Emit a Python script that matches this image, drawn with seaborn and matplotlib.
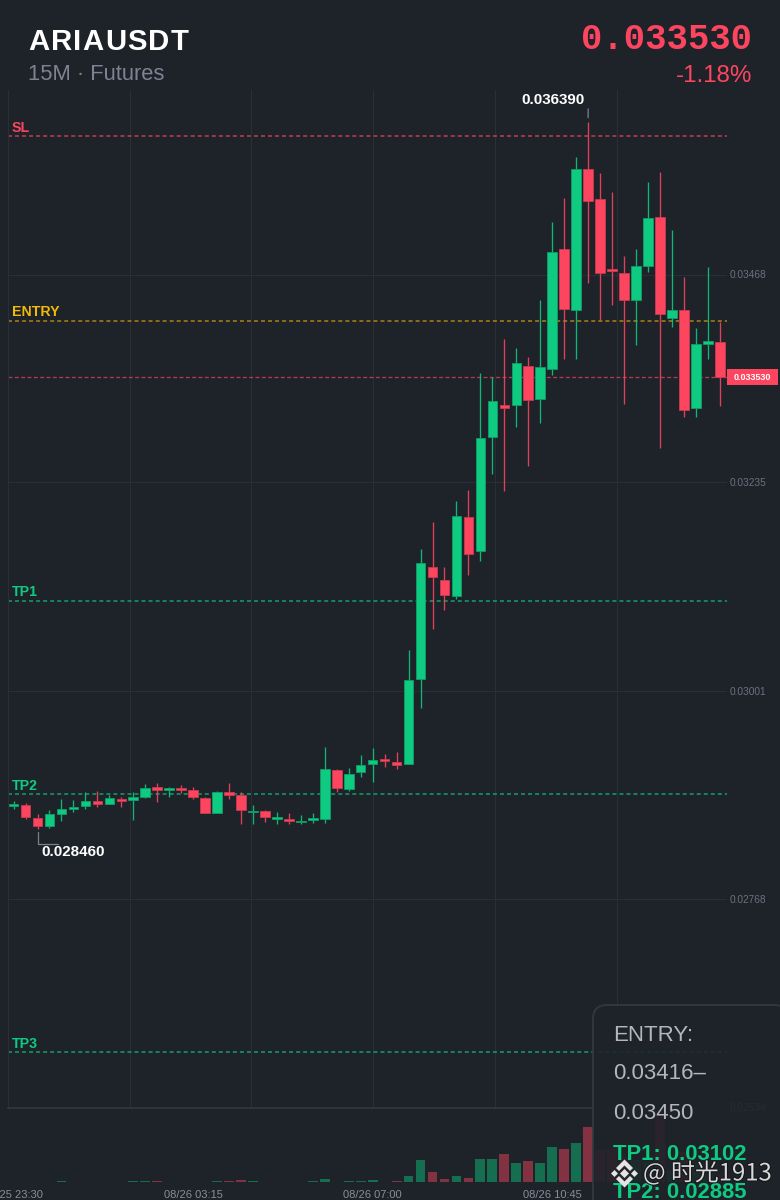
import numpy as np
import pandas as pd
import seaborn as sns
import matplotlib.pyplot as plt
from matplotlib.patches import FancyBboxPatch, Polygon, Rectangle
import matplotlib.patheffects as pe

# candles, 15 min each, starting 08/25 23:30
open_prices = [0.028726, 0.028732, 0.028583, 0.028497, 0.028628, 0.028687, 0.028717, 0.028774, 0.028747, 0.028799,
               0.028788, 0.028818, 0.028930, 0.028900, 0.028923, 0.028900, 0.028811, 0.028646, 0.028881, 0.028841,
               0.028657, 0.028661, 0.028578, 0.028572, 0.028545, 0.028564, 0.028578, 0.029124, 0.028908, 0.029099,
               0.029195, 0.029244, 0.029214, 0.029195, 0.030145, 0.031397, 0.031255, 0.031079, 0.031964, 0.031580,
               0.032861, 0.033217, 0.033214, 0.033657, 0.033281, 0.033621, 0.034963, 0.034282, 0.035863, 0.035523,
               0.034742, 0.034693, 0.034394, 0.034772, 0.035321, 0.034196, 0.034282, 0.033180, 0.033904, 0.033920]
high_prices = [0.028777, 0.028758, 0.028631, 0.028676, 0.028799, 0.028788, 0.028874, 0.028892, 0.028844, 0.028818,
               0.028874, 0.028964, 0.028975, 0.028934, 0.028956, 0.028934, 0.028822, 0.028892, 0.028982, 0.028881,
               0.028732, 0.028676, 0.028650, 0.028639, 0.028620, 0.028639, 0.029379, 0.029136, 0.029144, 0.029293,
               0.029368, 0.029301, 0.029330, 0.030470, 0.031599, 0.031905, 0.031404, 0.032137, 0.032267, 0.033579,
               0.033527, 0.033957, 0.033856, 0.033752, 0.034394, 0.035272, 0.035534, 0.035994, 0.036390, 0.035821,
               0.035608, 0.034891, 0.034963, 0.035714, 0.035833, 0.035179, 0.034655, 0.034077, 0.034761, 0.034151]
low_prices = [0.028682, 0.028575, 0.028460, 0.028477, 0.028556, 0.028657, 0.028687, 0.028713, 0.028743, 0.028713,
              0.028564, 0.028807, 0.028766, 0.028825, 0.028863, 0.028796, 0.028639, 0.028639, 0.028796, 0.028516,
              0.028516, 0.028545, 0.028516, 0.028516, 0.028516, 0.028527, 0.028534, 0.028881, 0.028892, 0.029049,
              0.028987, 0.029155, 0.029139, 0.029192, 0.029823, 0.030709, 0.030918, 0.031038, 0.031311, 0.031471,
              0.032440, 0.032249, 0.032974, 0.032536, 0.033012, 0.033553, 0.033729, 0.033729, 0.034581, 0.034170,
              0.034338, 0.033228, 0.033890, 0.034711, 0.032738, 0.034095, 0.033079, 0.033086, 0.033729, 0.033206]
close_prices = [0.028738, 0.028594, 0.028497, 0.028631, 0.028684, 0.028710, 0.028774, 0.028747, 0.028811, 0.028777,
                0.028822, 0.028919, 0.028900, 0.028923, 0.028904, 0.028818, 0.028646, 0.028881, 0.028848, 0.028679,
                0.028668, 0.028598, 0.028594, 0.028549, 0.028553, 0.028583, 0.029132, 0.028919, 0.029080, 0.029181,
                0.029233, 0.029229, 0.029184, 0.030134, 0.031445, 0.031288, 0.031087, 0.031976, 0.031550, 0.032847,
                0.033258, 0.033183, 0.033688, 0.033270, 0.033640, 0.034929, 0.034293, 0.035863, 0.035504, 0.034700,
                0.034719, 0.034394, 0.034779, 0.035310, 0.034234, 0.034282, 0.033161, 0.033901, 0.033931, 0.033530]
volumes = [0.5, 0.3, 0.4, 0.4, 1, 0.3, 0.4, 0.3, 0.3, 0.2,
           0.7, 0.7, 0.6, 0.3, 0.3, 0.3, 0.3, 0.8, 0.6, 2.5,
           0.8, 0.5, 0.5, 0.4, 0.3, 0.6, 3.5, 0.5, 0.6, 0.7,
           2, 0.3, 0.8, 6, 21.7, 10, 3, 6, 4.3, 23,
           22.7, 27.7, 19.3, 20.7, 19, 35, 33, 38.7, 55, 32,
           33, 25, 22, 20, 65, 12, 30, 18, 8, 7]

time_labels = ['08/25 23:30', '08/26 03:15', '08/26 07:00', '08/26 10:45']
time_ticks = [0, 15, 30, 45]
grid_times = [9.69, 19.85, 30.0, 40.2, 50.4]
price_ticks = [0.03468, 0.03235, 0.03001, 0.02768, 0.02534]

level_names = ['SL', 'ENTRY', 'TP1', 'TP2', 'TP3']
level_prices = [0.03623, 0.03416, 0.03102, 0.02885, 0.02596]
last_price = 0.033530

BG = '#1e2329'
GREEN = '#0ecb81'
RED = '#fd4560'
GOLD = '#d9a30f'
GRID = '#2a2f35'

sns.set_theme(style='dark', rc={'figure.facecolor': BG, 'axes.facecolor': BG, 'savefig.facecolor': BG})
plt.rcParams['font.family'] = ['Liberation Sans', 'Noto Sans CJK SC', 'DejaVu Sans']

W, H = 780, 1200
fig = plt.figure(figsize=(W / 100, H / 100), dpi=100)

def px_axes(x0, x1, y0, y1):
    return fig.add_axes([x0 / W, 1 - y1 / H, (x1 - x0) / W, (y1 - y0) / H])

ax = px_axes(7.6, 726.6, 90, 1107.5)
vol_ax = px_axes(7.6, 726.6, 1107.5, 1182)
ov = fig.add_axes([0, 0, 1, 1])
for a in (ax, vol_ax, ov):
    a.patch.set_alpha(0)
ov.set_xlim(0, W)
ov.set_ylim(H, 0)
ov.axis('off')

df = pd.DataFrame({'idx': np.arange(len(open_prices)), 'open': open_prices, 'high': high_prices,
                   'low': low_prices, 'close': close_prices, 'volume': volumes})
df['side'] = np.where(df['close'] >= df['open'], 'up', 'down')
df['color'] = np.where(df['close'] >= df['open'], GREEN, RED)
df['edge'] = np.where(df['close'] >= df['open'], '#0f9e68', '#c93a4f')

XLIM = (-0.5, 59.57)
YLIM = (0.0253405, 0.0367486)

# grid
for p in price_ticks:
    ax.axhline(p, color=GRID, lw=0.8, zorder=1)
for t in grid_times:
    ax.axvline(t, color=GRID, lw=0.8, zorder=1)
sns.despine(ax=ax, top=True, right=True)
ax.spines['left'].set_color(GRID)
ax.spines['left'].set_linewidth(0.8)
ax.spines['bottom'].set_color('#33383f')
ax.spines['bottom'].set_linewidth(1.2)

# level lines
level_colors = [RED, GOLD, GREEN, GREEN, GREEN]
for name, p, c in zip(level_names, level_prices, level_colors):
    ax.axhline(p, color=c, lw=1.15, alpha=0.72, dashes=(2.5, 1.9), zorder=2)
    ax.annotate(name, (0, p), xycoords=('axes fraction', 'data'), xytext=(3.2, 1.2), textcoords='offset points',
                color=c if name != 'ENTRY' else '#f0b90b', fontsize=10.2, fontweight='bold', va='bottom', ha='left')
ax.axhline(last_price, color=RED, lw=0.95, alpha=0.68, dashes=(3, 1.8), zorder=2)

# candles
ax.vlines(df['idx'], df['low'], df['high'], colors=df['color'], lw=0.95, alpha=0.88, zorder=3)
ax.bar(df['idx'], (df['close'] - df['open']).abs(), bottom=df[['open', 'close']].min(axis=1), width=0.8,
       color=df['color'], edgecolor=df['edge'], linewidth=0.6, zorder=4)

ax.set_xlim(*XLIM)
ax.set_ylim(*YLIM)
ax.set_xticks([])
ax.set_yticks([])
ax.set_xlabel('')

# volume
sns.barplot(data=df, x='idx', y='volume', hue='side', palette={'up': GREEN, 'down': RED}, dodge=False,
            native_scale=True, legend=False, width=0.82, saturation=1, alpha=0.45, linewidth=0, ax=vol_ax)
vol_ax.set_xlim(*XLIM)
vol_ax.set_ylim(0, 74.5)
vol_ax.set_xlabel('')
vol_ax.set_ylabel('')
vol_ax.set_xticks([])
vol_ax.set_yticks([])
sns.despine(ax=vol_ax, left=True, bottom=True, top=True, right=True)

# price labels right of the plot
for p in price_ticks:
    ax.annotate(f'{p:.5f}', (1, p), xycoords=('axes fraction', 'data'), xytext=(2.4, -0.6), textcoords='offset points',
                color='#6b7280', fontsize=7.3, va='center', ha='left', annotation_clip=False)
ov.add_patch(Rectangle((727, 369), 51, 16, fc=RED, ec='none', zorder=5))
ov.text(752.5, 377.3, f'{last_price:.6f}', color='white', fontsize=6.5, fontweight='bold', va='center', ha='center',
        zorder=6)

# time labels sit just under the volume pane
for t, lab in zip(time_ticks, time_labels):
    vol_ax.annotate(lab, (t, 0), xycoords=('data', 'axes fraction'), xytext=(0, -9), textcoords='offset points',
                    color='#848e9c', fontsize=8.0, va='center', ha='center', annotation_clip=False)

# extreme markers
imax = int(np.argmax(high_prices))
imin = int(np.argmin(low_prices))
ax.annotate(f'{high_prices[imax]:.6f}', (imax, high_prices[imax]), xytext=(-25.5, 15.7), textcoords='offset points',
            color='white', fontsize=10.9, fontweight='bold', va='center', ha='center')
ax.annotate('', (imax, high_prices[imax]), xytext=(0, 9.5), textcoords='offset points',
            arrowprops=dict(arrowstyle='-', color='#8a8f96', lw=0.8, shrinkA=0, shrinkB=3))
ax.annotate(f'{low_prices[imin]:.6f}', (imin, low_prices[imin]), xytext=(2.6, -16.4), textcoords='offset points',
            color='white', fontsize=10.9, fontweight='bold', va='center', ha='left')
ov.plot([38, 38, 57.5], [832, 844, 844], color='#7d828a', lw=0.9, zorder=5)

# header, title has some letter spacing
renderer = fig.canvas.get_renderer()
x = 28.0
for ch in 'ARIAUSDT':
    t = ov.text(x, 50, ch, color='white', fontsize=21.2, fontweight='bold', va='baseline', ha='left')
    adv = ov.text(0, 0, ch + ch, fontsize=21.2, fontweight='bold', alpha=0).get_window_extent(renderer).width / 2
    x += adv + 1.3
ov.text(28, 80, '15M · Futures', color='#7d8392', fontsize=15.8, va='baseline', ha='left')
ov.text(752, 49, '0.033530', color=RED, fontsize=25.7, fontweight='bold', family='Liberation Mono',
        va='baseline', ha='right')
ov.text(752, 82, '-1.18%', color=RED, fontsize=17.4, va='baseline', ha='right')

# info panel
ov.add_patch(FancyBboxPatch((601, 1013), 179, 220, boxstyle='round,pad=8,rounding_size=14', fc=BG, ec='#343940',
                            lw=1.4, alpha=0.89, zorder=7))
panel_text = [('ENTRY:', 1035.5, '#b4b6ba', 'normal'), ('0.03416–', 1073.5, '#b4b6ba', 'normal'),
              ('0.03450', 1113.5, '#b4b6ba', 'normal'), ('TP1: 0.03102', 1154, GREEN, 'bold'),
              ('TP2: 0.02885', 1193, GREEN, 'bold')]
for s, y, c, w, fs in [(*row, 16 if row[3] == 'normal' else 15.8) for row in panel_text]:
    ov.text(613, y, s, color=c, fontsize=fs, fontweight=w, va='center', ha='left', zorder=8)

# watermark
shadow = [pe.withStroke(linewidth=1.5, foreground='#14171b')]
ov.text(643, 1173, '@ 时光1913', color='#d8d8d8', fontsize=17.2, va='center', ha='left', zorder=9,
        family=['Noto Sans CJK SC', 'DejaVu Sans'], path_effects=shadow)
cx, cy = 624.5, 1173.5
def rhomb(x, y, r):
    return Polygon([(x, y - r), (x + r, y), (x, y + r), (x - r, y)], closed=True, fc='#e4e4e4', ec='none', zorder=9)
ov.add_patch(rhomb(cx, cy, 4.5))
for dx, dy in [(-10, 0), (10, 0)]:
    ov.add_patch(rhomb(cx + dx, cy + dy, 3.5))
for sign in (-1, 1):
    ov.add_patch(Polygon([(cx, cy + sign * 14), (cx + 8.5, cy + sign * 5.5), (cx + 5.5, cy + sign * 2.5),
                          (cx, cy + sign * 8), (cx - 5.5, cy + sign * 2.5), (cx - 8.5, cy + sign * 5.5)],
                         closed=True, fc='#e4e4e4', ec='none', zorder=9))

fig.savefig('out.png', dpi=100)
